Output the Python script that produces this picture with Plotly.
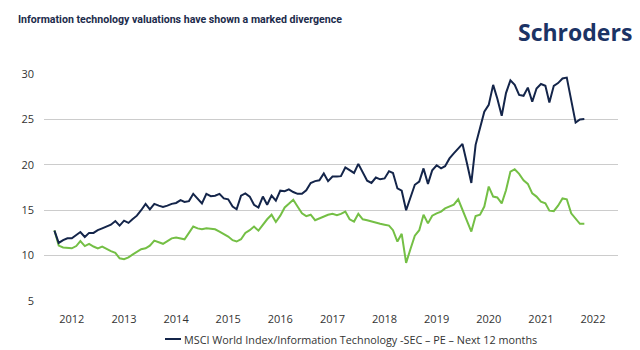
import plotly.graph_objects as go
import pandas as pd

dates = pd.date_range("2011-09-01", "2021-11-01", freq="MS")

it_pe = [
    12.75, 11.4, 11.7, 11.9, 11.9, 12.3, 12.6, 12.05, 12.5, 12.5,
    12.8, 13.0, 13.2, 13.4, 13.8, 13.3, 13.85, 13.6, 14.0, 14.4,
    15.0, 15.7, 15.1, 15.7, 15.5, 15.35, 15.5, 15.7, 15.8, 16.1,
    15.9, 16.0, 16.8, 16.3, 15.75, 16.8, 16.55, 16.6, 16.8, 16.3,
    16.2, 15.4, 15.1, 16.6, 16.85, 16.5, 15.6, 15.3, 16.5, 15.6,
    16.6, 16.05, 17.15, 17.1, 17.3, 17.0, 16.8, 16.8, 17.2, 18.0,
    18.2, 18.3, 19.05, 18.2, 18.7, 18.7, 18.75, 19.7, 19.4, 19.1,
    20.1, 19.1, 18.25, 18.0, 18.6, 18.4, 18.5, 19.3, 19.1, 17.4,
    17.15, 15.0, 16.5, 17.8, 18.15, 19.6, 17.9, 19.4, 19.95, 19.6,
    19.85, 20.7, 21.25, 21.8, 22.3, 20.2, 18.0, 22.2, 24.0, 25.85,
    26.6, 28.8, 27.3, 25.4, 27.9, 29.3, 28.8, 27.7, 27.6, 28.5,
    26.95, 28.4, 28.9, 28.7, 26.85, 28.7, 29.0, 29.5, 29.6, 27.1,
    24.65, 25.0, 25.05,
]

world_pe = [
    12.8, 11.1, 10.9, 10.85, 10.8, 11.05, 11.6, 11.05, 11.3, 11.0,
    10.8, 11.0, 10.7, 10.5, 10.3, 9.7, 9.6, 9.8, 10.1, 10.4,
    10.7, 10.8, 11.1, 11.65, 11.5, 11.3, 11.6, 11.9, 12.0, 11.9,
    11.8, 12.5, 13.2, 13.0, 12.9, 13.0, 12.95, 12.9, 12.65, 12.4,
    12.1, 11.7, 11.55, 11.8, 12.5, 12.8, 13.2, 12.75, 13.4, 14.0,
    14.5, 13.7, 14.4, 15.3, 15.7, 16.15, 15.4, 14.65, 14.35, 14.5,
    13.9, 14.1, 14.35, 14.5, 14.6, 14.45, 14.6, 14.85, 14.0, 13.75,
    14.6, 14.0, 13.9, 13.75, 13.6, 13.5, 13.4, 13.3, 12.8, 11.55,
    12.4, 9.2, 10.7, 12.2, 12.8, 14.5, 13.55, 14.4, 14.65, 14.85,
    15.2, 15.4, 15.6, 16.2, 15.0, 13.8, 12.65, 14.35, 14.5, 15.4,
    17.6, 16.5, 16.4, 15.75, 17.2, 19.25, 19.5, 19.0, 18.3, 17.9,
    16.85, 16.5, 15.95, 15.75, 14.95, 14.9, 15.5, 16.3, 16.2, 14.65,
    14.0, 13.5, 13.5,
]

year_ticks = [str(y) for y in range(2012, 2023)]
y_ticks = [5, 10, 15, 20, 25, 30]

title_text = "Information technology valuations have shown a marked divergence"
legend_text = "MSCI World Index/Information Technology -SEC \u2013 PE \u2013 Next 12 months"
brand_text = "Schroders"

NAVY = "#14254a"
GREEN = "#74bf45"

fig = go.Figure()
fig.add_trace(go.Scatter(x=dates, y=world_pe, mode="lines",
                         line=dict(color=GREEN, width=2), showlegend=False,
                         name="MSCI World"))
fig.add_trace(go.Scatter(x=dates, y=it_pe, mode="lines",
                         line=dict(color=NAVY, width=2), showlegend=False,
                         name=legend_text))

fig.update_layout(
    width=640, height=350,
    margin=dict(l=44, r=22, t=74, b=49),
    paper_bgcolor="white", plot_bgcolor="white",
    font=dict(family="Open Sans", size=11, color="#333333"),
    xaxis=dict(
        type="date",
        range=["2011-06-20", "2022-06-25"],
        tickvals=[f"{y}-01-01" for y in year_ticks],
        ticktext=year_ticks,
        showgrid=False, zeroline=False, showline=False,
        ticks="", ticklabelstandoff=10,
        tickfont=dict(size=11, color="#333333"),
    ),
    yaxis=dict(
        range=[5, 30],
        tickvals=y_ticks,
        showgrid=True, gridcolor="#cccccc", gridwidth=1,
        zeroline=False, showline=False, ticks="",
        ticklabelstandoff=9,
        tickfont=dict(size=11, color="#333333"),
    ),
)

fig.add_annotation(text=f"<b>{title_text}</b>", xref="paper", yref="paper",
                   x=(16 - 44) / 574, y=(350 - 19.5 - 49) / 227,
                   xanchor="left", yanchor="middle", showarrow=False,
                   font=dict(family="Roboto", size=10.6, color="#1c2b4b"))
fig.add_annotation(text=brand_text, xref="paper", yref="paper",
                   x=(575 - 44) / 574, y=(350 - 32 - 49) / 227,
                   xanchor="center", yanchor="middle", showarrow=False,
                   font=dict(family="Open Sans", size=23, color="#1b3365", weight=700))
# legend
ly = (350 - 339 - 49) / 227
fig.add_shape(type="line", xref="paper", yref="paper",
              x0=(165 - 44) / 574, x1=(181 - 44) / 574, y0=ly, y1=ly,
              line=dict(color=NAVY, width=2))
fig.add_annotation(text=legend_text, xref="paper", yref="paper",
                   x=(182 - 44) / 574, y=ly, xanchor="left", yanchor="middle",
                   showarrow=False, font=dict(family="Open Sans", size=10.8, color="#333333"))

fig.write_html("out.html")
